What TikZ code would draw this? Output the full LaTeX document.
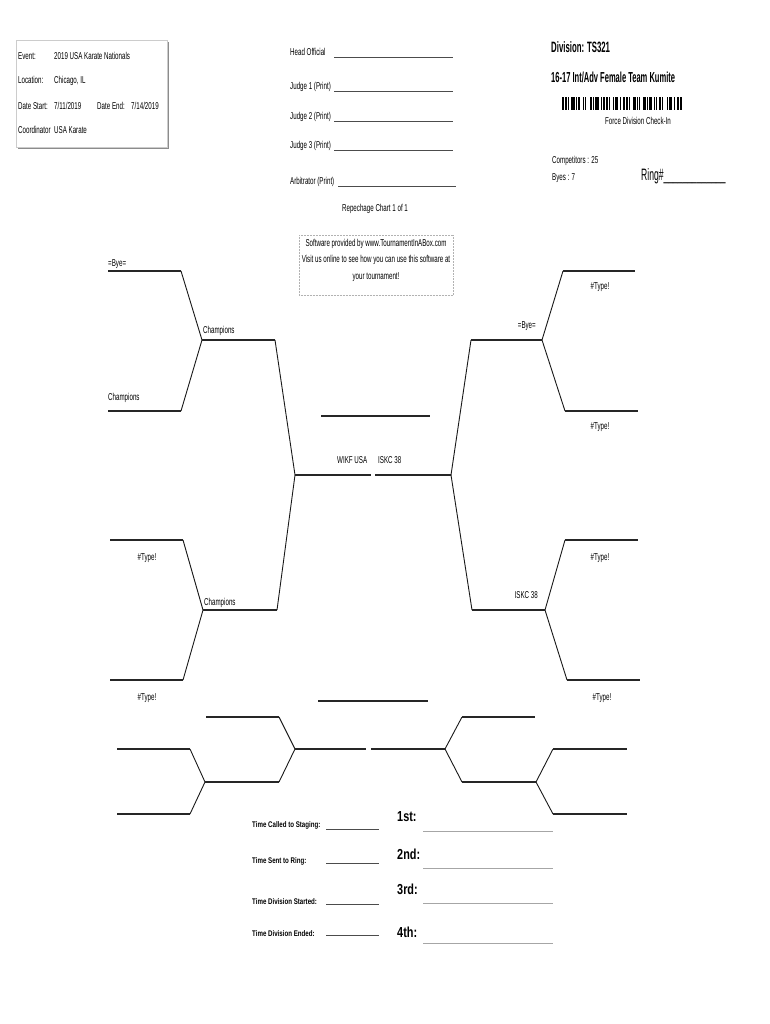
\documentclass[tikz,border=0pt]{standalone}
\usepackage{fontspec}
\setmainfont[FakeStretch=0.62]{Liberation Sans}
\newfontfamily\headfont[FakeStretch=0.52]{Liberation Sans}
\newfontfamily\placefont[FakeStretch=0.75]{Liberation Sans}
\begin{document}
\begin{tikzpicture}[x=1pt,y=-1pt,
  txt/.style={anchor=base west,inner sep=0pt,font=\fontsize{10}{12}\selectfont,text=black},
  txtr/.style={txt,anchor=base east},
  txtc/.style={txt,anchor=base},
  hl/.style={line width=1.7pt,draw=black!85},
  dl/.style={line width=0.9pt,draw=black!90},
  sigline/.style={line width=0.6pt,draw=black!70},
  placeline/.style={line width=0.7pt,draw=black!35},
  timefont/.style={font=\placefont\bfseries\fontsize{8.2}{10}\selectfont},
  bigplace/.style={font=\placefont\bfseries\fontsize{14.5}{16}\selectfont},
]
\useasboundingbox[fill=white] (0,0) rectangle (770,1024);

% ---------- info box ----------
\fill[black!45] (18,42) rectangle (169,149);
\draw[fill=white,draw=black!20,line width=0.5pt] (16,40) rectangle (167,147);
\node[txt] (ev) at (18,60) {Event:};
\node[txt] (evv) at (54,60) {2019 USA Karate Nationals};
\node[txt] (loc) at (18,84) {Location:};
\node[txt] (locv) at (54,84) {Chicago, IL};
\node[txt] (ds) at (18,110) {Date Start:};
\node[txt] (dsv) at (54,110) {7/11/2019};
\node[txt] (de) at (97,110) {Date End:};
\node[txt] (dev) at (131,110) {7/14/2019};
\node[txt] (co) at (18,134) {Coordinator};
\node[txt] (cov) at (54,134) {USA Karate};

% ---------- officials ----------
\node[txt] (ho) at (290,56) {Head Official};
\draw[sigline] (334,57) -- (453,57);
\node[txt] (j1) at (290,90) {Judge 1 (Print)};
\draw[sigline] (334,91) -- (453,91);
\node[txt] (j2) at (290,120) {Judge 2 (Print)};
\draw[sigline] (334,121) -- (453,121);
\node[txt] (j3) at (290,149) {Judge 3 (Print)};
\draw[sigline] (334,150) -- (453,150);
\node[txt] (arb) at (290,185) {Arbitrator (Print)};
\draw[sigline] (338,186) -- (456,186);
\node[txtc] (rep) at (375,212) {Repechage Chart 1 of 1};

% ---------- division ----------
\node[txt,font=\headfont\bfseries\fontsize{15}{16}\selectfont] (div) at (551,53) {Division: TS321};
\node[txt,font=\headfont\bfseries\fontsize{14.5}{16}\selectfont] (dname) at (551,83) {16-17 Int/Adv Female Team Kumite};
\xdef\bx{562}
\foreach \b/\g in {2/1,1/1,1/2,3/1,1/1,2/2,1/1,1/3,2/1,1/1,3/2,1/1,1/1,2/1,1/2,1/1,3/1,1/2,2/1,1/1,1/3,2/1,1/1,1/2,3/1,1/1,2/2,1/1,1/1,2/1,1/3,1/1,3/1,1/2,2/1,1/1}{
  \fill[black] (\bx,97) rectangle ++(\b*1.15,13);
  \pgfmathsetmacro\tx{\bx+(\b+\g)*1.15}
  \xdef\bx{\tx}
}
\node[txtc] (chk) at (638,125) {Force Division Check-In};
\node[txt] (comp) at (552,164) {Competitors : 25};
\node[txt] (byes) at (552,181) {Byes : 7};
\node[txt,font=\headfont\fontsize{16.5}{18}\selectfont] (ring) at (641,181) {Ring\#\_\_\_\_\_\_\_\_\_\_\_\_\_};

% ---------- software box ----------
\draw[draw=black!30,densely dotted,line width=0.5pt] (299,235) rectangle (453,295);
\node[txtc] (sw1) at (376,247) {Software provided by www.TournamentInABox.com};
\node[txtc] (sw2) at (376,262) {Visit us online to see how you can use this software at};
\node[txtc] (sw3) at (376,279) {your tournament!};

% ---------- main bracket: left ----------
\draw[hl] (108,271) -- (181,271);
\draw[hl] (108,411) -- (181,411);
\draw[dl] (181,271) -- (202,340) -- (181,411);
\draw[hl] (202,340) -- (275,340);
\draw[hl] (110,540) -- (183,540);
\draw[hl] (110,680) -- (183,680);
\draw[dl] (183,540) -- (203,610) -- (183,680);
\draw[hl] (203,610) -- (277,610);
\draw[dl] (275,340) -- (295,475) -- (277,610);
\draw[hl] (295,475) -- (371,475);
\draw[hl] (375,475) -- (451,475);
\draw[hl] (321,416) -- (430,416);
% right
\draw[dl] (471,340) -- (451,475) -- (472,610);
\draw[hl] (471,340) -- (542,340);
\draw[dl] (563,271) -- (542,340) -- (565,411);
\draw[hl] (563,271) -- (635,271);
\draw[hl] (565,411) -- (638,411);
\draw[hl] (472,610) -- (545,610);
\draw[dl] (565,540) -- (545,610) -- (567,680);
\draw[hl] (565,540) -- (638,540);
\draw[hl] (567,680) -- (640,680);

% labels
\node[txt] (l1) at (108,266) {=Bye=};
\node[txt] (l2) at (203,333) {Champions};
\node[txt] (l3) at (108,400) {Champions};
\node[txtr] (r1) at (536,328.5) {=Bye=};
\node[txtc] (r2) at (600,289) {\#Type!};
\node[txtc] (r3) at (600,429) {\#Type!};
\node[txt] (c1) at (337,463) {WIKF USA};
\node[txt] (c2) at (378,463) {ISKC 38};
\node[txtc] (l4) at (147,560) {\#Type!};
\node[txtc] (l5) at (147,700) {\#Type!};
\node[txt] (l6) at (204,605) {Champions};
\node[txtr] (r4) at (538,598) {ISKC 38};
\node[txtc] (r5) at (600,560) {\#Type!};
\node[txtc] (r6) at (602,700) {\#Type!};

% ---------- repechage bracket ----------
\draw[hl] (318,701) -- (428,701);
\draw[hl] (117,749) -- (190,749);
\draw[hl] (117,814) -- (190,814);
\draw[dl] (190,749) -- (205,782) -- (190,814);
\draw[hl] (205,782) -- (279,782);
\draw[hl] (206,717) -- (279,717);
\draw[dl] (279,717) -- (295,749) -- (279,782);
\draw[hl] (295,749) -- (366,749);
\draw[hl] (371,749) -- (445,749);
\draw[dl] (462,717) -- (445,749) -- (462,782);
\draw[hl] (462,717) -- (535,717);
\draw[hl] (462,782) -- (536,782);
\draw[dl] (553,749) -- (536,782) -- (553,814);
\draw[hl] (553,749) -- (627,749);
\draw[hl] (553,814) -- (627,814);

% ---------- times & places ----------
\node[txt,timefont] (t1) at (252,827) {Time Called to Staging:};
\draw[sigline,line width=0.8pt] (326,829) -- (379,829);
\node[txt,timefont] (t2) at (252,863) {Time Sent to Ring:};
\draw[sigline,line width=0.8pt] (326,863) -- (379,863);
\node[txt,timefont] (t3) at (252,904) {Time Division Started:};
\draw[sigline,line width=0.8pt] (326,904) -- (379,904);
\node[txt,timefont] (t4) at (252,936) {Time Division Ended:};
\draw[sigline,line width=0.8pt] (326,935) -- (379,935);

\node[txt,bigplace] (p1) at (397,821) {1st:};
\draw[placeline] (423,831) -- (553,831);
\node[txt,bigplace] (p2) at (397,859) {2nd:};
\draw[placeline] (423,868) -- (553,868);
\node[txt,bigplace] (p3) at (397,894) {3rd:};
\draw[placeline] (423,903) -- (553,903);
\node[txt,bigplace] (p4) at (397,937) {4th:};
\draw[placeline] (423,943) -- (553,943);
\end{tikzpicture}
\end{document}
